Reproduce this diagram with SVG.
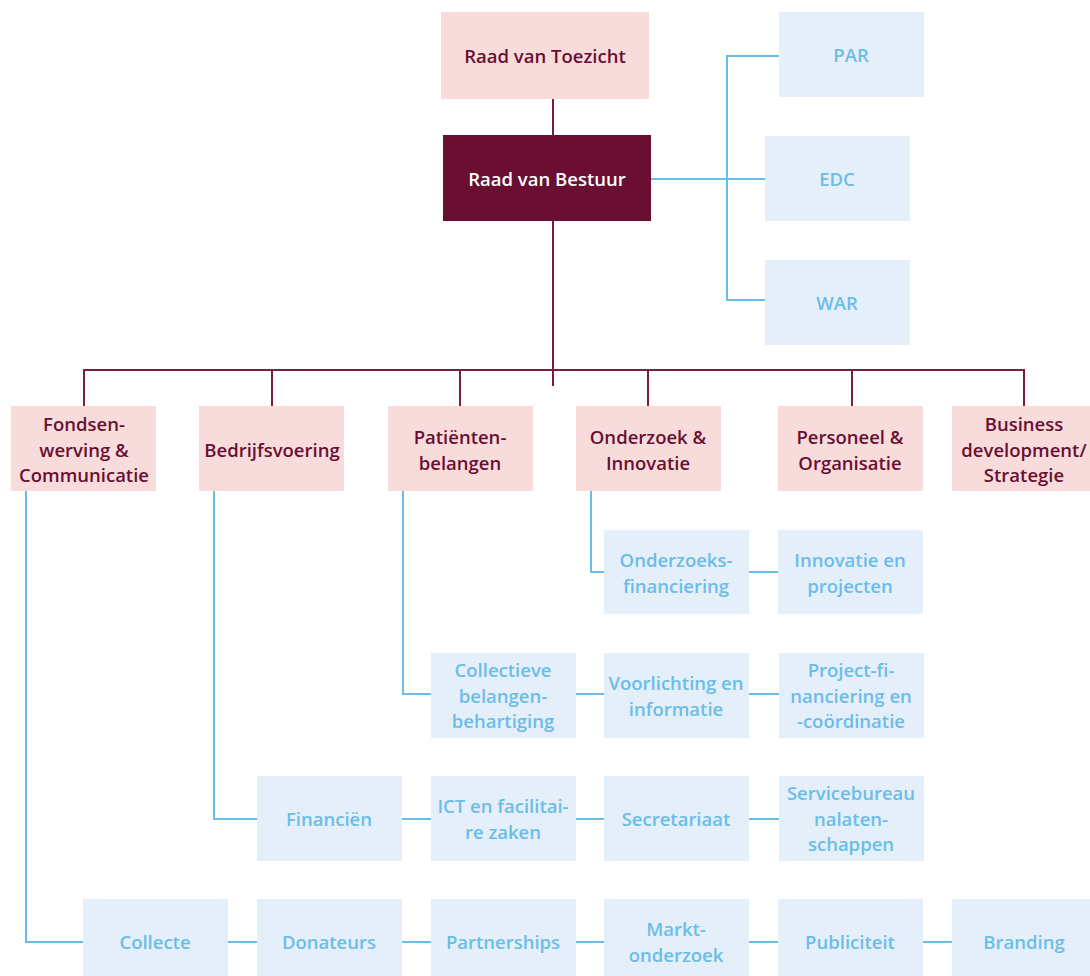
<svg xmlns="http://www.w3.org/2000/svg" width="1090" height="976" viewBox="0 0 1090 976">
<style>
.pk{fill:#f8dcdc}
.dk{fill:#6a0f31}
.bl{fill:#e4eff9}
text{font-family:"Open Sans","Noto Sans",sans-serif;font-weight:600;font-size:18.5px;text-anchor:middle}
.tm{fill:#6a0f31}
.tw{fill:#ffffff}
.tb{fill:#6bbde9}
.lm{stroke:#7a1d40;stroke-width:2;fill:none}
.lb{stroke:#6bbde9;stroke-width:2;fill:none}
</style>
<rect width="1090" height="976" fill="#ffffff"/>
<g id="connectors">
<path class="lm" d="M553,98 V135 M553,221 V386 M84,406 V370 H1024 V406 M272,370 V406 M460,370 V406 M648,370 V406 M852,370 V406"/>
<path class="lb" d="M651,179 H765 M779,56 H727 V300 H765"/>
<path class="lb" d="M591,490 V572 H604 M748,572 H778"/>
<path class="lb" d="M403,490 V694 H431 M575,694 H604 M748,694 H779"/>
<path class="lb" d="M214,490 V819 H257 M401,819 H431 M575,819 H604 M748,819 H779"/>
<path class="lb" d="M26,490 V942 H83 M227,942 H257 M401,942 H431 M575,942 H604 M748,942 H778 M922,942 H952"/>
</g>
<g id="toezicht"><rect class="pk" x="441" y="12" width="208" height="87"/><text class="tm" x="545" y="63">Raad van Toezicht</text></g>
<g id="bestuur"><rect class="dk" x="443" y="135" width="208" height="86"/><text class="tw" x="547" y="186">Raad van Bestuur</text></g>
<g id="par"><rect class="bl" x="779" y="12" width="145" height="85"/><text class="tb" x="851" y="62">PAR</text></g>
<g id="edc"><rect class="bl" x="765" y="136" width="145" height="85"/><text class="tb" x="837" y="186">EDC</text></g>
<g id="war"><rect class="bl" x="765" y="260" width="145" height="85"/><text class="tb" x="837" y="310">WAR</text></g>

<g id="fondsen"><rect class="pk" x="11" y="406" width="145" height="85"/><text class="tm" x="84" y="431">Fondsen-<tspan x="84" dy="25.5">werving &amp;</tspan><tspan x="84" dy="25.5">Communicatie</tspan></text></g>
<g id="bedrijfsvoering"><rect class="pk" x="199" y="406" width="145" height="85"/><text class="tm" x="272" y="457">Bedrijfsvoering</text></g>
<g id="patienten"><rect class="pk" x="388" y="406" width="145" height="85"/><text class="tm" x="460" y="444">Patiënten-<tspan x="460" dy="25.5">belangen</tspan></text></g>
<g id="onderzoek"><rect class="pk" x="576" y="406" width="145" height="85"/><text class="tm" x="648" y="444">Onderzoek &amp;<tspan x="648" dy="25.5">Innovatie</tspan></text></g>
<g id="personeel"><rect class="pk" x="778" y="406" width="145" height="85"/><text class="tm" x="850" y="444">Personeel &amp;<tspan x="850" dy="25.5">Organisatie</tspan></text></g>
<g id="business"><rect class="pk" x="952" y="406" width="145" height="85"/><text class="tm" x="1024" y="431">Business<tspan x="1024" dy="25.5">development/</tspan><tspan x="1024" dy="25.5">Strategie</tspan></text></g>

<g id="onderzoeksfin"><rect class="bl" x="604" y="530" width="145" height="84"/><text class="tb" x="676" y="567">Onderzoeks-<tspan x="676" dy="25.5">financiering</tspan></text></g>
<g id="innovatie"><rect class="bl" x="778" y="530" width="145" height="84"/><text class="tb" x="850" y="567">Innovatie en<tspan x="850" dy="25.5">projecten</tspan></text></g>

<g id="collectieve"><rect class="bl" x="431" y="653" width="145" height="85"/><text class="tb" x="503" y="677">Collectieve<tspan x="503" dy="25.5">belangen-</tspan><tspan x="503" dy="25.5">behartiging</tspan></text></g>
<g id="voorlichting"><rect class="bl" x="604" y="653" width="145" height="85"/><text class="tb" x="676" y="690">Voorlichting en<tspan x="676" dy="25.5">informatie</tspan></text></g>
<g id="projectfin"><rect class="bl" x="779" y="653" width="145" height="85"/><text class="tb" x="851" y="677">Project-fi-<tspan x="851" dy="25.5">nanciering en</tspan><tspan x="851" dy="25.5">-coördinatie</tspan></text></g>

<g id="financien"><rect class="bl" x="257" y="776" width="145" height="85"/><text class="tb" x="329" y="826">Financiën</text></g>
<g id="ict"><rect class="bl" x="431" y="776" width="145" height="85"/><text class="tb" x="503" y="813">ICT en facilitai-<tspan x="503" dy="25.5">re zaken</tspan></text></g>
<g id="secretariaat"><rect class="bl" x="604" y="776" width="145" height="85"/><text class="tb" x="676" y="826">Secretariaat</text></g>
<g id="servicebureau"><rect class="bl" x="779" y="776" width="145" height="85"/><text class="tb" x="851" y="800">Servicebureau<tspan x="851" dy="25.5">nalaten-</tspan><tspan x="851" dy="25.5">schappen</tspan></text></g>

<g id="collecte"><rect class="bl" x="83" y="899" width="145" height="77"/><text class="tb" x="155" y="949">Collecte</text></g>
<g id="donateurs"><rect class="bl" x="257" y="899" width="145" height="77"/><text class="tb" x="329" y="949">Donateurs</text></g>
<g id="partnerships"><rect class="bl" x="431" y="899" width="145" height="77"/><text class="tb" x="503" y="949">Partnerships</text></g>
<g id="marktonderzoek"><rect class="bl" x="604" y="899" width="145" height="77"/><text class="tb" x="676" y="936">Markt-<tspan x="676" dy="25.5">onderzoek</tspan></text></g>
<g id="publiciteit"><rect class="bl" x="778" y="899" width="145" height="77"/><text class="tb" x="850" y="949">Publiciteit</text></g>
<g id="branding"><rect class="bl" x="952" y="899" width="145" height="77"/><text class="tb" x="1024" y="949">Branding</text></g>
</svg>
